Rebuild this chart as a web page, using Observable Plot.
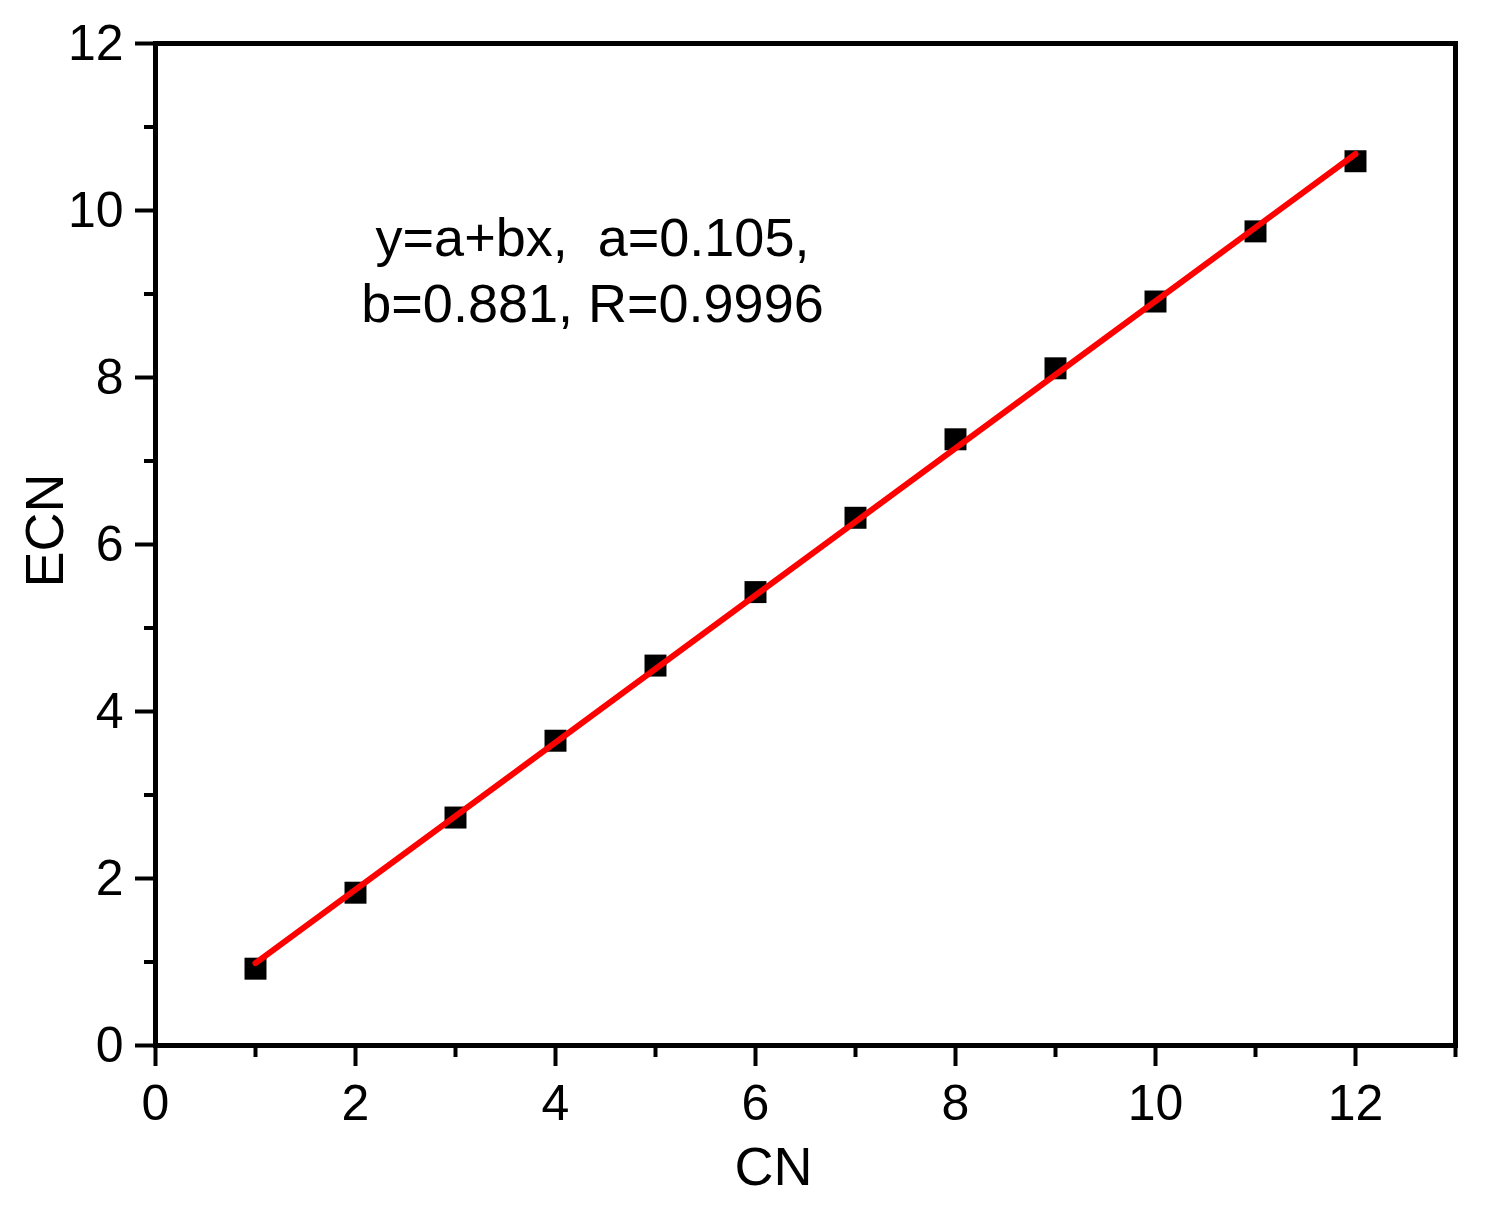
<!DOCTYPE html>
<html>
<head>
<meta charset="utf-8">
<script src="https://cdn.jsdelivr.net/npm/d3@7"></script>
<script src="https://cdn.jsdelivr.net/npm/@observablehq/plot@0.6"></script>
<style>
  html, body { margin: 0; padding: 0; background: #fff; }
  svg { display: block; }
</style>
</head>
<body>
<div id="chart"></div>
<script>
// Data
const cn  = [1, 2, 3, 4, 5, 6, 7, 8, 9, 10, 11, 12];
const ecn = [0.92, 1.83, 2.73, 3.65, 4.55, 5.43, 6.32, 7.26, 8.11, 8.91, 9.75, 10.59];

// Linear fit line endpoints (y = 0.105 + 0.881x)
const fitX = [1, 12];
const fitY = [0.986, 10.677];

// Tick values
const xMajor = [0, 2, 4, 6, 8, 10, 12];
const xMinor = [1, 3, 5, 7, 9, 11, 13];
const yMajor = [0, 2, 4, 6, 8, 10, 12];
const yMinor = [1, 3, 5, 7, 9, 11];

const annotation = ["y=a+bx,\u00a0 a=0.105,", "b=0.881, R=0.9996"];
const xLabel = "CN";
const yLabel = "ECN";

const points = cn.map((x, i) => ({x, y: ecn[i]}));
const fit = fitX.map((x, i) => ({x, y: fitY[i]}));

const font = "'Liberation Sans', Arial, Helvetica, sans-serif";

const chart = Plot.plot({
  width: 1492,
  height: 1217,
  marginLeft: 155,
  marginRight: 37,
  marginTop: 43,
  marginBottom: 172,
  inset: 0,
  style: {fontFamily: font, background: "#fff", color: "#000"},
  x: {domain: [0, 13]},
  y: {domain: [0, 12]},
  marks: [
    Plot.axisX({ticks: xMajor, tickSize: 21, tickPadding: 18, stroke: "#000", strokeWidth: 4, fontSize: 50, fontFamily: font, label: null}),
    Plot.axisX({ticks: xMinor, tickSize: 12, stroke: "#000", strokeWidth: 4, text: null, label: null}),
    Plot.axisY({ticks: yMajor, tickSize: 20, tickPadding: 12, stroke: "#000", strokeWidth: 4, fontSize: 50, fontFamily: font, label: null}),
    Plot.axisY({ticks: yMinor, tickSize: 11, stroke: "#000", strokeWidth: 4, text: null, label: null}),
    Plot.frame({stroke: "#000", strokeWidth: 5}),
    Plot.dot(points, {x: "x", y: "y", symbol: "square", r: 12.4, fill: "#000", stroke: "none"}),
    Plot.line(fit, {x: "x", y: "y", stroke: "#ff0000", strokeWidth: 6, strokeLinecap: "round"}),
    Plot.text([annotation.join("\n")], {frameAnchor: "top", dx: -213, dy: 224, textAnchor: "middle", lineAnchor: "middle", lineHeight: 1.22, fontSize: 54, fontFamily: font, fill: "#000"}),
    Plot.text([xLabel], {frameAnchor: "bottom", dx: -32, dy: 122, textAnchor: "middle", lineAnchor: "middle", fontSize: 54, fontFamily: font, fill: "#000"}),
    Plot.text([yLabel], {frameAnchor: "left", dx: -110, dy: -14, rotate: -90, textAnchor: "middle", lineAnchor: "middle", fontSize: 54, fontFamily: font, fill: "#000"})
  ]
});
document.getElementById("chart").appendChild(chart);
</script>
</body>
</html>
